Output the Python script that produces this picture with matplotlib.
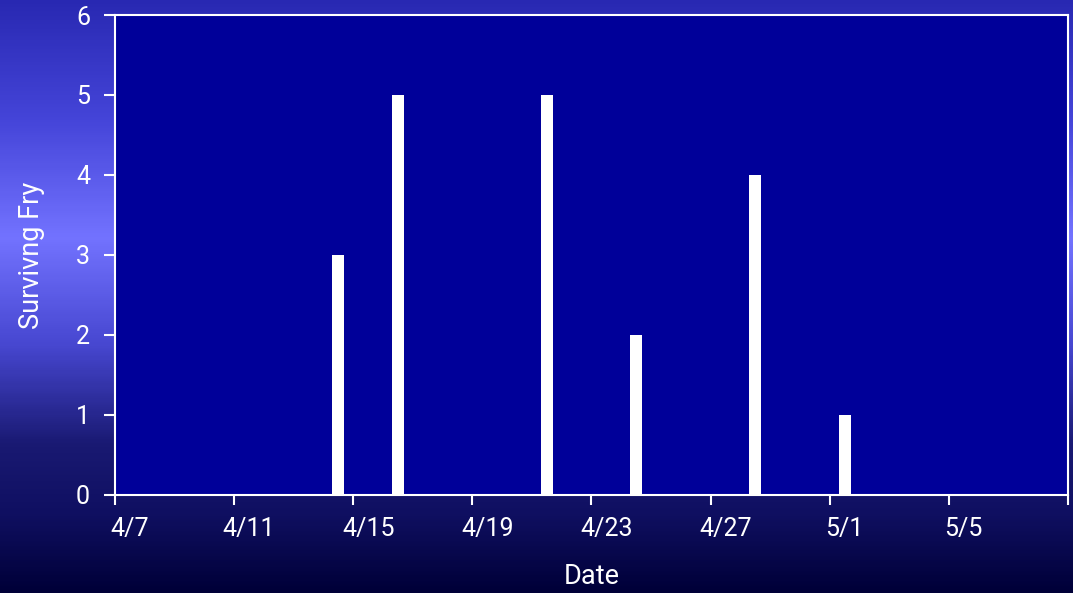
import numpy as np
import pandas as pd
import matplotlib
matplotlib.use("Agg")
import matplotlib.pyplot as plt
import matplotlib.dates as mdates
from matplotlib.colors import LinearSegmentedColormap

# data
dates = ["4/14", "4/16", "4/21", "4/24", "4/28", "5/1"]
fry = [3, 5, 5, 2, 4, 1]
tick_dates = ["4/7", "4/11", "4/15", "4/19", "4/23", "4/27", "5/1", "5/5"]
axis_start, axis_end = "4/7", "5/9"

plt.rcParams['font.family'] = ['Roboto', 'DejaVu Sans']

def to_num(s):
    return mdates.date2num(pd.to_datetime(["2003/" + d for d in s]))

x = to_num(dates) + 0.5          # bars sit in the middle of each day slot
ticks = to_num(tick_dates)
x0, x1 = to_num([axis_start, axis_end])

fig = plt.figure(figsize=(10.73, 5.93), dpi=100)

# background gradient (vertical)
bg = fig.add_axes([0, 0, 1, 1], zorder=-10)
bg_cmap = LinearSegmentedColormap.from_list("bg", [
    (0.00, (0.16, 0.16, 0.70)),
    (0.20, (0.27, 0.27, 0.85)),
    (0.40, (0.45, 0.45, 1.00)),
    (0.58, (0.28, 0.28, 0.82)),
    (0.75, (0.10, 0.10, 0.45)),
    (0.87, (0.06, 0.06, 0.38)),
    (1.00, (0.00, 0.00, 0.22)),
])
bg.imshow(np.linspace(0, 1, 300).reshape(-1, 1), aspect='auto', cmap=bg_cmap,
          extent=[0, 1, 0, 1], origin='upper')
bg.set_axis_off()

ax = fig.add_axes([0.1072, 0.1653, 0.8881, 0.8094])
ax.set_facecolor('#000099')
ax.bar(x, fry, width=0.4, color='white', zorder=3)

ax.set_xlim(x0, x1)
ax.set_ylim(0, 6)
ax.set_yticks(range(7))

# ticks at day boundaries every 4 days, labels centered in the day slot
ax.set_xticks(list(ticks) + [x1])
ax.set_xticklabels([])
ax.set_xticks(ticks + 0.5, minor=True)
ax.set_xticklabels(tick_dates, minor=True)
ax.tick_params(axis='x', which='major', length=7, width=1.5, color='white', direction='out')
ax.tick_params(axis='x', which='minor', length=0, pad=16, labelsize=18, labelcolor='white')
ax.tick_params(axis='y', length=8, width=1.5, color='white', labelsize=18,
               labelcolor='white', pad=10)

for sp in ax.spines.values():
    sp.set_color('white')
    sp.set_linewidth(1.5)

ax.set_xlabel("Date", color='white', fontsize=19.5, labelpad=16)
ax.set_ylabel("Survivng Fry", color='white', fontsize=19.5, labelpad=22)

fig.savefig("out.png", dpi=100)
